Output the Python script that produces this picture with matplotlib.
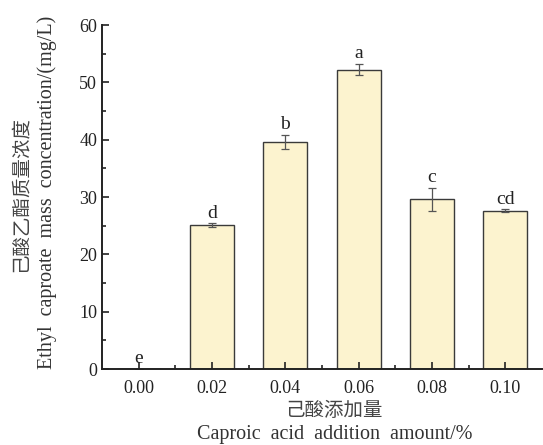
import matplotlib.pyplot as plt
import numpy as np
from matplotlib.ticker import MultipleLocator

amounts = ["0.00", "0.02", "0.04", "0.06", "0.08", "0.10"]
conc = [0.0, 25.1, 39.6, 52.2, 29.6, 27.6]
err = [0.0, 0.3, 1.2, 1.0, 2.0, 0.25]
letters = ["e", "d", "b", "a", "c", "cd"]

plt.rcParams['font.family'] = ['Liberation Serif', 'Noto Sans CJK SC']

fig = plt.figure(figsize=(5.43, 4.45), dpi=100)
# light grey panel behind the plot
bg = fig.add_axes([62 / 543, 1 - 400 / 445, 481 / 543, 388 / 445], zorder=-1)
bg.set_facecolor('#f9f9f9')
bg.axis('off')
bg.patch.set_visible(True)
ax = fig.add_axes([102 / 543, 1 - 369 / 445, 440 / 543, 344 / 445])
ax.patch.set_alpha(0)
ax.set_axisbelow(False)

x = np.arange(len(amounts))
ax.bar(x, conc, width=0.6, color='#fcf3cf', edgecolor='#3a3a3a', linewidth=1.0)
ax.errorbar(x, conc, yerr=err, fmt='none', ecolor='#555555', elinewidth=0.9,
            capsize=3, capthick=0.9)
for xi, v, e, t in zip(x, conc, err, letters):
    ax.text(xi, v + e + 0.3, t, ha='center', va='bottom', fontsize=14, color='#222222')

ax.set_xlim(-0.5, 5.5)
ax.set_ylim(0, 60)
ax.set_xticks(x)
ax.set_xticklabels(amounts)
ax.set_xticks(x[:-1] + 0.5, minor=True)
ax.yaxis.set_major_locator(MultipleLocator(10))
ax.yaxis.set_minor_locator(MultipleLocator(5))
ax.tick_params(which='both', direction='in', colors='#222222', labelsize=13)
ax.tick_params(which='major', length=5, width=1.2)
ax.tick_params(which='minor', length=3, width=1.2)
ax.tick_params(axis='x', pad=8)
for s in ['top', 'right']:
    ax.spines[s].set_visible(False)
for s in ['left', 'bottom']:
    ax.spines[s].set_linewidth(1.4)
    ax.spines[s].set_color('#222222')

fig.text(334 / 543, 1 - 410 / 445, "己酸添加量", ha='center', va='center',
         fontsize=14, color='#444444', family=['Noto Sans CJK SC'])
fig.text(335 / 543, 1 - 435 / 445, "Caproic  acid  addition  amount/%", ha='center',
         va='center', fontsize=14.5, color='#333333')
fig.text(20 / 543, 1 - 194 / 445, "己酸乙酯质量浓度", rotation=90, ha='center',
         va='center', fontsize=14, color='#444444', family=['Noto Sans CJK SC'])
fig.text(47 / 543, 1 - 192 / 445, "Ethyl  caproate  mass  concentration/(mg/L)",
         rotation=90, ha='center', va='center', fontsize=14.5, color='#333333')

fig.savefig("out.png", dpi=100)
